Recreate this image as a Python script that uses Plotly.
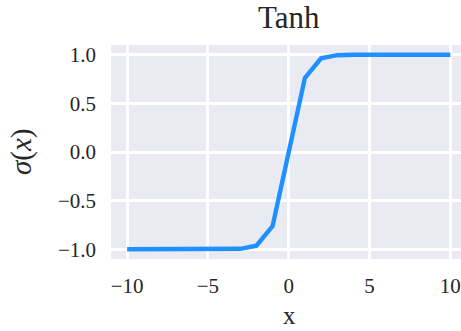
import plotly.graph_objects as go

x_vals = [-10, -9, -8, -7, -6, -5, -4, -3, -2, -1, 0, 1, 2, 3, 4, 5, 6, 7, 8, 9, 10]
y_vals = [-1.0, -1.0, -1.0, -1.0, -1.0, -0.9999, -0.9993, -0.995, -0.964, -0.762, 0.0,
          0.762, 0.964, 0.995, 0.9993, 0.9999, 1.0, 1.0, 1.0, 1.0, 1.0]
x_ticks = [-10, -5, 0, 5, 10]
x_tick_text = ["\u221210", "\u22125", "0", "5", "10"]
y_ticks = [-1.0, -0.5, 0.0, 0.5, 1.0]
y_tick_text = ["\u22121.0", "\u22120.5", "0.0", "0.5", "1.0"]

FONT = "Liberation Serif"
TXT = "#262626"

fig = go.Figure()
fig.add_trace(go.Scatter(x=x_vals, y=y_vals, mode="lines",
                         line=dict(color="#1E90FF", width=4.4)))

fig.update_layout(
    width=461, height=331,
    margin=dict(l=111, r=0, t=45, b=72),
    plot_bgcolor="#EAEAF2", paper_bgcolor="white",
    showlegend=False,
    font=dict(family=FONT, color=TXT),
)
fig.update_xaxes(range=[-11, 10.66], tickvals=x_ticks, ticktext=x_tick_text,
                 showgrid=True, gridcolor="white", gridwidth=2.6, zeroline=False,
                 showline=False, ticks="", tickfont=dict(size=21, family=FONT, color=TXT),
                 ticklabelstandoff=12)
fig.update_yaxes(range=[-1.1, 1.1], tickvals=y_ticks, ticktext=y_tick_text,
                 showgrid=True, gridcolor="white", gridwidth=2.6, zeroline=False,
                 showline=False, ticks="", tickfont=dict(size=21, family=FONT, color=TXT),
                 ticklabelstandoff=14)

fig.add_annotation(text="Tanh", xref="paper", yref="paper", x=0.509, y=1.0,
                   yshift=28, showarrow=False, font=dict(size=31, family=FONT, color=TXT),
                   yanchor="middle")
fig.add_annotation(text="x", xref="paper", yref="paper", x=0.509, y=0.0,
                   yshift=-56, showarrow=False, font=dict(size=25, family=FONT, color=TXT),
                   yanchor="middle")
fig.add_annotation(text="<i>\u03c3</i>(<i>x</i>)", xref="paper", yref="paper", x=0.0,
                   y=0.5, xshift=-90, showarrow=False, textangle=-90,
                   font=dict(size=29, family=FONT, color=TXT), xanchor="center")

fig.write_html("out.html")
